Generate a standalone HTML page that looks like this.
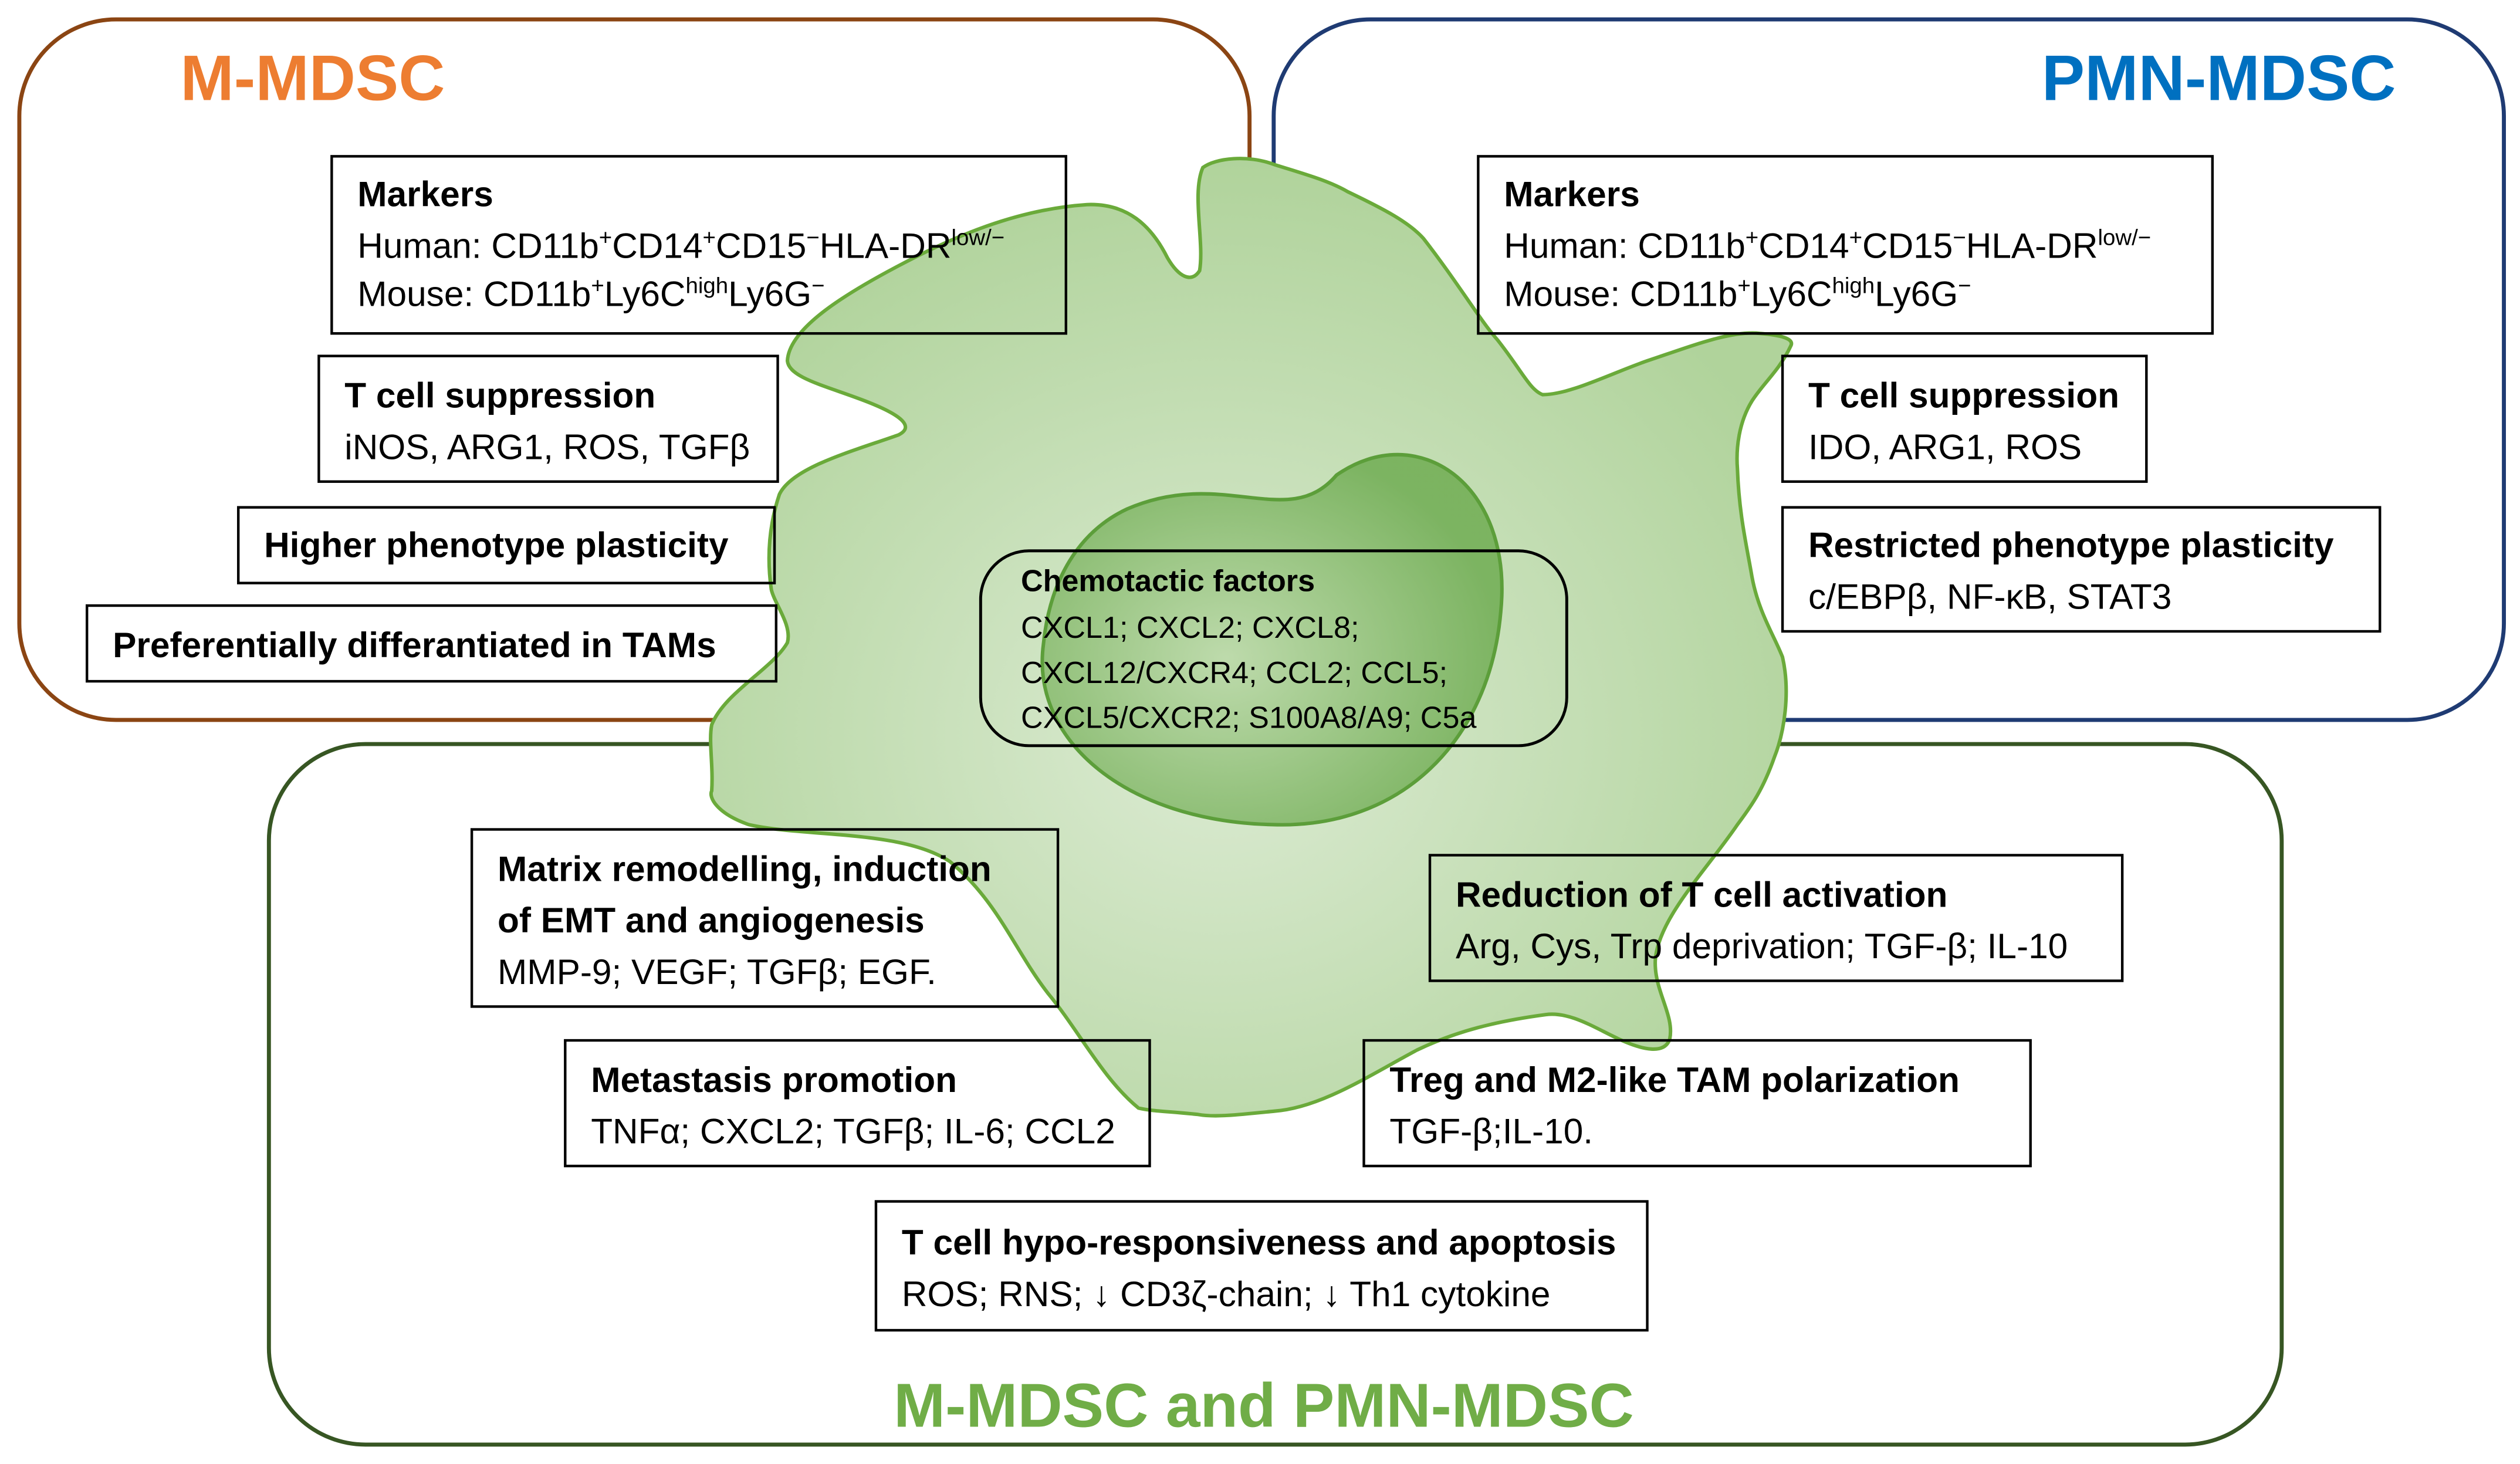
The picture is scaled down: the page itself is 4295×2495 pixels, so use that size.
<!DOCTYPE html>
<html><head><meta charset="utf-8"><style>
html,body{margin:0;padding:0;background:#fff;}
svg{display:block;}
text{font-family:"Liberation Sans",sans-serif;fill:#000;}
.b{font-weight:bold;font-size:22px;}
.n{font-size:22px;}
</style></head><body>
<svg width="4295" height="2495" viewBox="0 0 1565 909" xmlns="http://www.w3.org/2000/svg">
<defs>
<radialGradient id="cg" cx="0.47" cy="0.6" r="0.6">
<stop offset="0" stop-color="#dcebd3"/><stop offset="1" stop-color="#b0d39b"/></radialGradient>
<radialGradient id="ng" cx="0.4" cy="0.55" r="0.6">
<stop offset="0" stop-color="#b9d8a6"/><stop offset="1" stop-color="#6fac52"/></radialGradient>
</defs>
<rect x="0" y="0" width="1565" height="909" fill="#fff"/>
<rect x="12" y="12" width="764" height="435" rx="60" fill="none" stroke="#8b4513" stroke-width="2.5"/>
<rect x="791" y="12" width="764" height="435" rx="60" fill="none" stroke="#1f3b73" stroke-width="2.5"/>
<rect x="167" y="462" width="1250" height="435" rx="60" fill="none" stroke="#375623" stroke-width="2.5"/>
<path d="M747,104 C755,98 775,96 791,102 C810,108 825,112 837,119 C860,130 875,138 884,148 C905,175 920,200 930,211 C945,230 950,242 958,245 C975,245 1000,232 1023,224 C1050,215 1075,205 1093,207 C1105,208 1115,210 1112,215 C1105,230 1095,238 1088,249 C1080,262 1078,278 1079,291 C1080,320 1085,340 1088,358 C1092,380 1102,395 1107,408 C1112,430 1108,455 1102,470 C1095,490 1088,500 1079,512 C1060,540 1030,570 1028,596 C1027,615 1040,630 1037,645 C1034,655 1020,652 1005,645 C990,638 975,628 960,630 C930,634 905,640 880,652 C850,668 820,688 791,690 C770,692 755,694 744,692 C725,690 715,690 707,688 C685,670 670,640 651,617 C630,590 620,560 590,535 C560,515 500,520 465,512 C445,505 440,495 442,491 C443,475 440,460 442,450 C450,430 480,415 489,399 C492,388 481,375 479,366 C476,345 478,325 484,307 C492,290 530,280 558,270 C568,265 560,258 540,250 C515,240 490,235 489,224 C490,205 520,185 558,165 C590,148 630,130 675,127 C700,126 715,140 725,160 C732,172 740,176 745,168 C748,150 740,120 747,104 Z" fill="url(#cg)" stroke="#6aaa3a" stroke-width="2.2"/>
<path d="M700,316 C760,290 800,330 830,295 C880,260 940,300 932,380 C925,460 870,515 790,512 C700,510 640,460 648,400 C652,360 670,330 700,316 Z" fill="url(#ng)" fill-opacity="0.85" stroke="#5c9e3a" stroke-width="2.2"/>
<g fill="none" stroke="#000" stroke-width="1.6">
<rect x="206" y="97" width="456" height="110"/>
<rect x="198" y="221" width="285" height="78"/>
<rect x="148" y="315" width="333" height="47"/>
<rect x="54" y="376" width="428" height="47"/>
<rect x="918" y="97" width="456" height="110"/>
<rect x="1107" y="221" width="226" height="78"/>
<rect x="1107" y="315" width="371" height="77"/>
<rect x="293" y="515" width="364" height="110"/>
<rect x="888" y="531" width="430" height="78"/>
<rect x="351" y="646" width="363" height="78"/>
<rect x="847" y="646" width="414" height="78"/>
<rect x="544" y="746" width="479" height="80"/>
</g>
<rect x="609" y="342" width="364" height="121" rx="30" fill="none" stroke="#000" stroke-width="1.8"/>
<text x="112" y="62" font-size="40" font-weight="bold" style="fill:#ed7d31">M-MDSC</text>
<text x="1268" y="62" font-size="40" font-weight="bold" style="fill:#0070c0">PMN-MDSC</text>
<text x="555" y="886" font-size="38.5" font-weight="bold" style="fill:#70ad47">M-MDSC and PMN-MDSC</text>
<text class="b" x="222" y="128">Markers</text>
<text class="n" x="222" y="160">Human: CD11b<tspan font-size="14" dy="-8">+</tspan><tspan dy="8">CD14</tspan><tspan font-size="14" dy="-8">+</tspan><tspan dy="8">CD15</tspan><tspan font-size="14" dy="-8">−</tspan><tspan dy="8">HLA-DR</tspan><tspan font-size="14" dy="-8">low/−</tspan></text>
<text class="n" x="222" y="190">Mouse: CD11b<tspan font-size="14" dy="-8">+</tspan><tspan dy="8">Ly6C</tspan><tspan font-size="14" dy="-8">high</tspan><tspan dy="8">Ly6G</tspan><tspan font-size="14" dy="-8">−</tspan></text>
<text class="b" x="214" y="253">T cell suppression</text>
<text class="n" x="214" y="285">iNOS, ARG1, ROS, TGFβ</text>
<text class="b" x="164" y="346">Higher phenotype plasticity</text>
<text class="b" x="70" y="408">Preferentially differantiated in TAMs</text>
<text class="b" x="934" y="128">Markers</text>
<text class="n" x="934" y="160">Human: CD11b<tspan font-size="14" dy="-8">+</tspan><tspan dy="8">CD14</tspan><tspan font-size="14" dy="-8">+</tspan><tspan dy="8">CD15</tspan><tspan font-size="14" dy="-8">−</tspan><tspan dy="8">HLA-DR</tspan><tspan font-size="14" dy="-8">low/−</tspan></text>
<text class="n" x="934" y="190">Mouse: CD11b<tspan font-size="14" dy="-8">+</tspan><tspan dy="8">Ly6C</tspan><tspan font-size="14" dy="-8">high</tspan><tspan dy="8">Ly6G</tspan><tspan font-size="14" dy="-8">−</tspan></text>
<text class="b" x="1123" y="253">T cell suppression</text>
<text class="n" x="1123" y="285">IDO, ARG1, ROS</text>
<text class="b" x="1123" y="346">Restricted phenotype plasticity</text>
<text class="n" x="1123" y="378">c/EBPβ, NF-κB, STAT3</text>
<text x="634" y="367" font-size="19" font-weight="bold">Chemotactic factors</text>
<text x="634" y="396" font-size="19">CXCL1; CXCL2; CXCL8;</text>
<text x="634" y="424" font-size="19">CXCL12/CXCR4; CCL2; CCL5;</text>
<text x="634" y="452" font-size="19">CXCL5/CXCR2; S100A8/A9; C5a</text>
<text class="b" x="309" y="547">Matrix remodelling, induction</text>
<text class="b" x="309" y="579">of EMT and angiogenesis</text>
<text class="n" x="309" y="611">MMP-9; VEGF; TGFβ; EGF.</text>
<text class="b" x="904" y="563">Reduction of T cell activation</text>
<text class="n" x="904" y="595">Arg, Cys, Trp deprivation; TGF-β; IL-10</text>
<text class="b" x="367" y="678">Metastasis promotion</text>
<text class="n" x="367" y="710">TNFα; CXCL2; TGFβ; IL-6; CCL2</text>
<text class="b" x="863" y="678">Treg and M2-like TAM polarization</text>
<text class="n" x="863" y="710">TGF-β;IL-10.</text>
<text class="b" x="560" y="779">T cell hypo-responsiveness and apoptosis</text>
<text class="n" x="560" y="811">ROS; RNS; ↓ CD3ζ-chain; ↓ Th1 cytokine</text>
</svg>
</body></html>
